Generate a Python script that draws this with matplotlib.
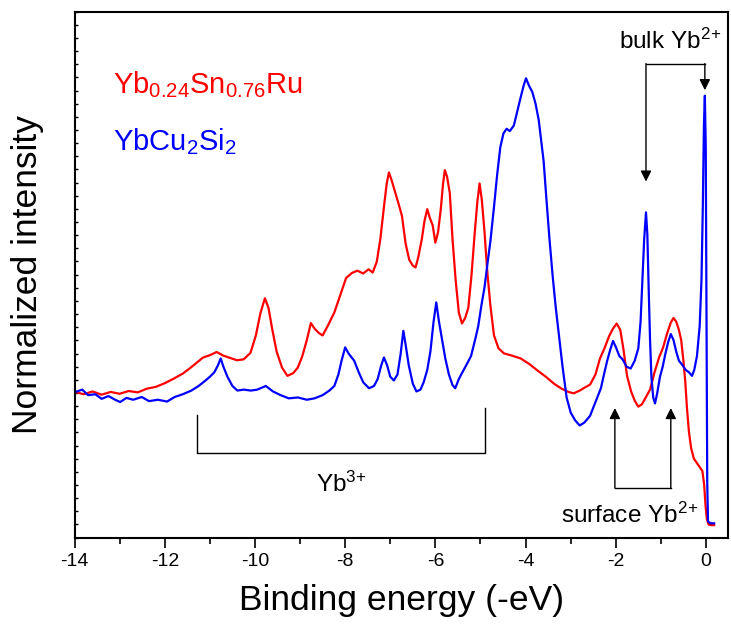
import matplotlib
matplotlib.use("Agg")
import matplotlib.pyplot as plt
from matplotlib.ticker import MultipleLocator

plt.rcParams['font.family'] = ['Liberation Sans', 'DejaVu Sans']
plt.rcParams['mathtext.fontset'] = 'custom'
plt.rcParams['mathtext.rm'] = 'Liberation Sans'
plt.rcParams['mathtext.it'] = 'Liberation Sans:italic'
plt.rcParams['mathtext.bf'] = 'Liberation Sans:bold'
plt.rcParams['axes.unicode_minus'] = False

# Yb0.24Sn0.76Ru spectrum
red_energy = [-13.95, -13.8, -13.6, -13.4, -13.2, -13.0, -12.8, -12.6, -12.4, -12.2,
              -12.0, -11.8, -11.6, -11.45, -11.3, -11.15, -11.0, -10.85, -10.7, -10.55,
              -10.4, -10.25, -10.1, -9.98, -9.88, -9.78, -9.70, -9.62, -9.52, -9.40,
              -9.28, -9.15, -9.05, -8.95, -8.85, -8.76, -8.68, -8.58, -8.50, -8.38,
              -8.24, -8.10, -7.98, -7.85, -7.73, -7.60, -7.48, -7.39, -7.30, -7.22,
              -7.14, -7.08, -7.03, -6.97, -6.90, -6.82, -6.74, -6.66, -6.58, -6.50,
              -6.44, -6.38, -6.30, -6.24, -6.18, -6.12, -6.06, -6.00, -5.94, -5.88,
              -5.83, -5.79, -5.74, -5.68, -5.62, -5.55, -5.48, -5.41, -5.34, -5.27,
              -5.20, -5.13, -5.07, -5.02, -4.97, -4.91, -4.85, -4.78, -4.70, -4.60,
              -4.48, -4.30, -4.11, -3.92, -3.74, -3.55, -3.37, -3.20, -3.05, -2.93,
              -2.80, -2.68, -2.57, -2.45, -2.35, -2.25, -2.15, -2.06, -1.98, -1.90,
              -1.83, -1.75, -1.66, -1.58, -1.50, -1.42, -1.33, -1.24, -1.14, -1.04,
              -0.95, -0.86, -0.78, -0.72, -0.66, -0.60, -0.55, -0.50, -0.46, -0.42,
              -0.38, -0.33, -0.27, -0.20, -0.13, -0.08, -0.04, -0.01, 0.02, 0.06,
              0.12, 0.18]
red_intensity = [0.316, 0.312, 0.318, 0.311, 0.317, 0.313, 0.319, 0.316, 0.324, 0.328,
                 0.336, 0.346, 0.357, 0.368, 0.380, 0.392, 0.397, 0.404, 0.396, 0.391,
                 0.386, 0.388, 0.402, 0.440, 0.488, 0.521, 0.500, 0.455, 0.405, 0.370,
                 0.352, 0.358, 0.370, 0.395, 0.430, 0.467, 0.455, 0.445, 0.440, 0.462,
                 0.490, 0.530, 0.565, 0.576, 0.581, 0.575, 0.584, 0.577, 0.600, 0.650,
                 0.720, 0.770, 0.795, 0.778, 0.755, 0.728, 0.700, 0.640, 0.605, 0.592,
                 0.588, 0.610, 0.650, 0.690, 0.715, 0.695, 0.680, 0.642, 0.665, 0.715,
                 0.770, 0.800, 0.785, 0.750, 0.650, 0.560, 0.490, 0.466, 0.478, 0.500,
                 0.570, 0.660, 0.730, 0.771, 0.735, 0.665, 0.580, 0.505, 0.440, 0.412,
                 0.401, 0.396, 0.390, 0.378, 0.364, 0.350, 0.335, 0.324, 0.317, 0.314,
                 0.320, 0.327, 0.333, 0.355, 0.390, 0.412, 0.438, 0.455, 0.466, 0.452,
                 0.410, 0.352, 0.318, 0.298, 0.285, 0.290, 0.306, 0.322, 0.360, 0.392,
                 0.414, 0.445, 0.468, 0.478, 0.470, 0.452, 0.430, 0.385, 0.340, 0.280,
                 0.232, 0.195, 0.172, 0.162, 0.152, 0.145, 0.115, 0.070, 0.040, 0.028,
                 0.027, 0.027]

# YbCu2Si2 spectrum
blue_energy = [-13.95, -13.83, -13.70, -13.54, -13.40, -13.25, -13.10, -12.99, -12.85, -12.70,
               -12.51, -12.35, -12.15, -11.95, -11.78, -11.60, -11.41, -11.25, -11.12, -11.00,
               -10.90, -10.82, -10.76, -10.70, -10.61, -10.50, -10.39, -10.25, -10.09, -9.95,
               -9.76, -9.60, -9.43, -9.25, -9.05, -8.85, -8.68, -8.50, -8.35, -8.24,
               -8.15, -8.08, -8.00, -7.92, -7.80, -7.70, -7.60, -7.47, -7.36, -7.28,
               -7.20, -7.14, -7.07, -7.00, -6.92, -6.84, -6.77, -6.71, -6.66, -6.59,
               -6.50, -6.42, -6.33, -6.26, -6.18, -6.11, -6.04, -5.98, -5.92, -5.85,
               -5.78, -5.70, -5.62, -5.56, -5.48, -5.40, -5.30, -5.21, -5.12, -5.05,
               -4.98, -4.91, -4.84, -4.78, -4.70, -4.63, -4.56, -4.49, -4.42, -4.35,
               -4.26, -4.18, -4.11, -4.04, -3.99, -3.93, -3.85, -3.78, -3.71, -3.65,
               -3.60, -3.54, -3.47, -3.40, -3.33, -3.26, -3.18, -3.09, -3.00, -2.90,
               -2.80, -2.70, -2.57, -2.45, -2.33, -2.25, -2.19, -2.12, -2.06, -2.00,
               -1.92, -1.85, -1.76, -1.67, -1.58, -1.50, -1.45, -1.41, -1.37, -1.33,
               -1.30, -1.27, -1.24, -1.21, -1.17, -1.13, -1.08, -1.02, -0.96, -0.90,
               -0.84, -0.78, -0.72, -0.66, -0.60, -0.52, -0.45, -0.38, -0.31, -0.26,
               -0.20, -0.14, -0.10, -0.07, -0.045, -0.025, -0.005, 0.012, 0.028, 0.045,
               0.10, 0.18]
blue_intensity = [0.318, 0.322, 0.310, 0.312, 0.302, 0.308, 0.300, 0.295, 0.304, 0.300,
                  0.306, 0.297, 0.300, 0.296, 0.306, 0.312, 0.320, 0.330, 0.340, 0.350,
                  0.360, 0.375, 0.390, 0.372, 0.350, 0.330, 0.320, 0.322, 0.320, 0.322,
                  0.330, 0.318, 0.310, 0.303, 0.305, 0.300, 0.303, 0.310, 0.320, 0.330,
                  0.355, 0.385, 0.414, 0.400, 0.385, 0.360, 0.338, 0.325, 0.330, 0.345,
                  0.375, 0.392, 0.375, 0.350, 0.342, 0.355, 0.400, 0.450, 0.420, 0.375,
                  0.335, 0.318, 0.322, 0.338, 0.365, 0.405, 0.470, 0.512, 0.470, 0.430,
                  0.390, 0.355, 0.332, 0.325, 0.345, 0.360, 0.378, 0.395, 0.430, 0.460,
                  0.505, 0.545, 0.600, 0.645, 0.720, 0.790, 0.850, 0.880, 0.890, 0.885,
                  0.897, 0.930, 0.958, 0.985, 1.000, 0.985, 0.970, 0.945, 0.910, 0.860,
                  0.820, 0.740, 0.650, 0.570, 0.500, 0.440, 0.372, 0.305, 0.272, 0.255,
                  0.244, 0.250, 0.265, 0.295, 0.325, 0.360, 0.385, 0.410, 0.428, 0.415,
                  0.395, 0.388, 0.372, 0.368, 0.385, 0.412, 0.470, 0.560, 0.650, 0.708,
                  0.660, 0.540, 0.430, 0.350, 0.305, 0.292, 0.315, 0.350, 0.372, 0.400,
                  0.425, 0.443, 0.430, 0.405, 0.385, 0.375, 0.365, 0.360, 0.352, 0.365,
                  0.395, 0.460, 0.560, 0.720, 0.900, 0.962, 0.850, 0.500, 0.120, 0.035,
                  0.031, 0.031]

red_label = r'$\mathrm{Yb_{0.24}Sn_{0.76}Ru}$'
blue_label = r'$\mathrm{YbCu_2Si_2}$'

fig = plt.figure(figsize=(7.31, 6.35), dpi=100)
ax = fig.add_axes([0.102, 0.1535, 0.894, 0.828])

ax.plot(red_energy, red_intensity, color='red', lw=1.6)
ax.plot(blue_energy, blue_intensity, color='blue', lw=1.6)

ytop = 1.1448
ax.set_xlim(-14, 0.49)
ax.set_ylim(0, ytop)

ax.xaxis.set_major_locator(MultipleLocator(2))
ax.xaxis.set_minor_locator(MultipleLocator(1))
ax.yaxis.set_major_locator(MultipleLocator(ytop / 40))
ax.tick_params(axis='x', which='major', direction='out', length=7.5, width=1.2,
               labelsize=14, pad=4)
ax.tick_params(axis='x', which='minor', direction='out', length=4, width=1.2)
ax.tick_params(axis='y', which='major', direction='in', length=2.5, width=1,
               labelleft=False)
for sp in ax.spines.values():
    sp.set_linewidth(1.5)

ax.set_xlabel('Binding energy (-eV)', fontsize=25.5, labelpad=10)
ax.set_ylabel('Normalized intensity', fontsize=25.5, labelpad=22)

# sample labels
ax.text(-13.15, 0.967, red_label, color='red', fontsize=21, va='baseline')
ax.text(-13.15, 0.844, blue_label, color='blue', fontsize=21, va='baseline')

arrow = dict(arrowstyle='-|>', color='k', lw=1, mutation_scale=16,
             shrinkA=0, shrinkB=0)

# bulk Yb2+ bracket
ax.plot([-1.33, -0.025], [1.032, 1.032], color='k', lw=1)
ax.annotate('', xy=(-1.33, 0.775), xytext=(-1.33, 1.032), arrowprops=arrow)
ax.annotate('', xy=(-0.025, 0.974), xytext=(-0.025, 1.032), arrowprops=arrow)
ax.text(0.33, 1.063, r'bulk Yb$^{2\!+}$', fontsize=17.5, ha='right', va='baseline')

# surface Yb2+ bracket
ax.plot([-2.02, -0.78], [0.108, 0.108], color='k', lw=1)
ax.annotate('', xy=(-2.02, 0.282), xytext=(-2.02, 0.108), arrowprops=arrow)
ax.annotate('', xy=(-0.78, 0.282), xytext=(-0.78, 0.108), arrowprops=arrow)
ax.text(-0.17, 0.032, r'surface Yb$^{2\!+}$', fontsize=17.5, ha='right', va='baseline')

# Yb3+ bracket
ax.plot([-11.28, -11.28, -4.91, -4.91], [0.267, 0.184, 0.184, 0.282], color='k', lw=1)
ax.text(-8.64, 0.100, r'Yb$^{3\!+}$', fontsize=17.5, ha='left', va='baseline')

fig.savefig('out.png', dpi=100)
